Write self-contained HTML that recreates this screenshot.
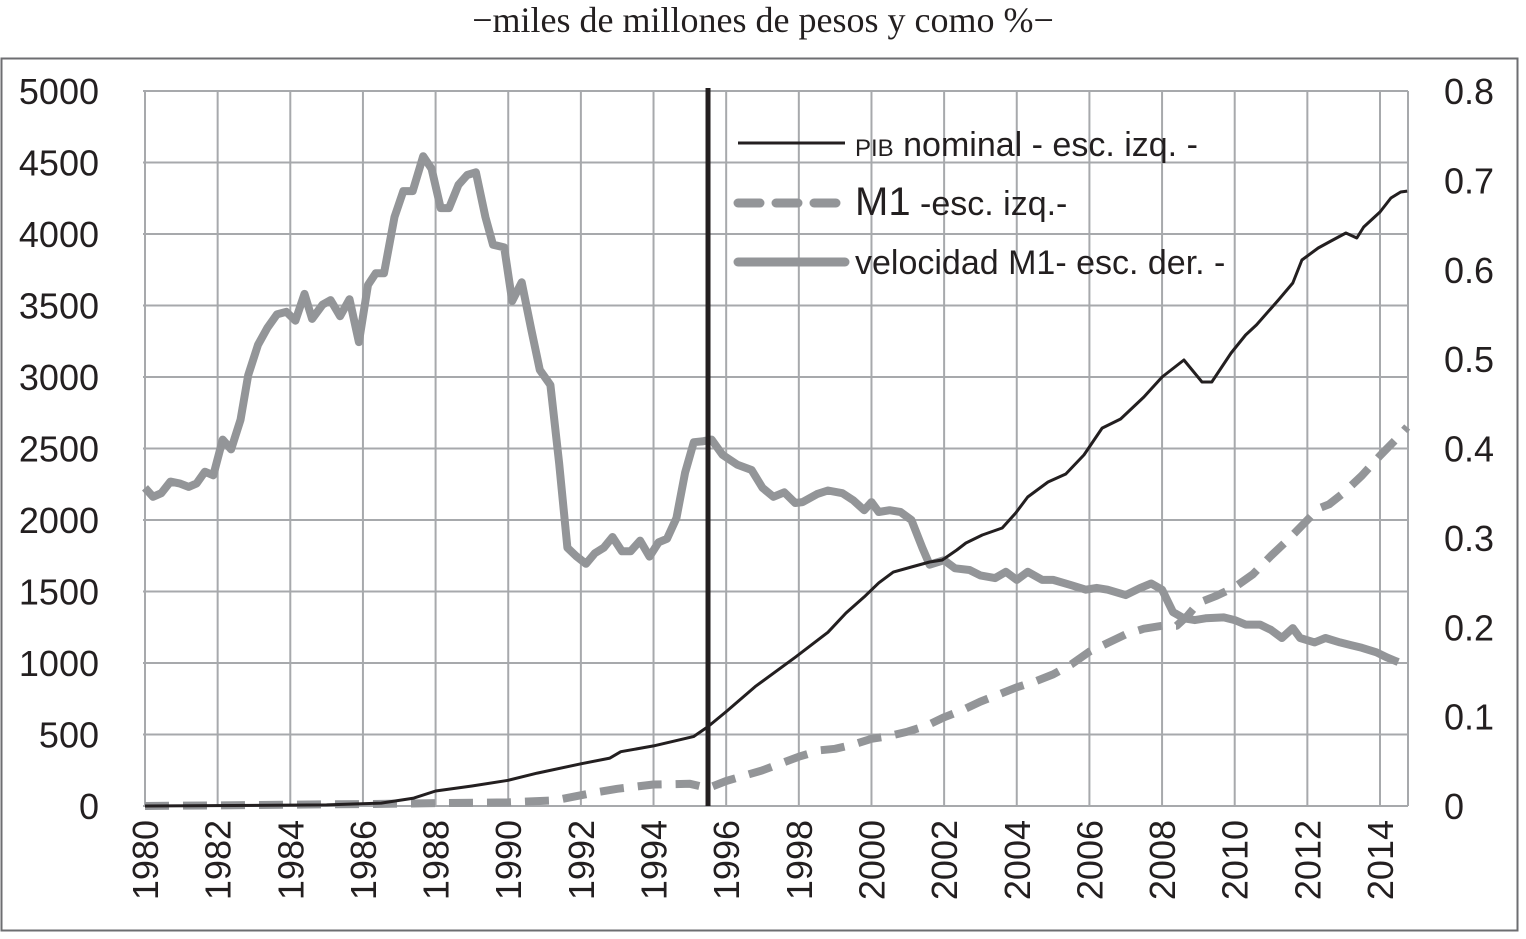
<!DOCTYPE html>
<html><head><meta charset="utf-8"><style>
html,body{margin:0;padding:0;background:#fff;}
svg{display:block;}
text{font-family:"Liberation Sans",sans-serif;fill:#231f20;}
</style></head><body>
<svg id="chart" width="1526" height="939" viewBox="0 0 1526 939">
<text x="763" y="32" text-anchor="middle" style="font-family:'Liberation Serif',serif;font-size:36px">−miles de millones de pesos y como %−</text>
<rect x="1.5" y="58.5" width="1516" height="872" fill="none" stroke="#6d6e71" stroke-width="2"/>
<g id="grid"></g>
<g id="axes"></g>
<g id="series"></g>
<g id="legend">
  <line x1="738" y1="143" x2="845" y2="143" stroke="#231f20" stroke-width="3"/>
  <text x="855" y="156" style="font-size:34px"><tspan style="font-size:24px">PIB</tspan> nominal - esc. izq. -</text>
  <line x1="738" y1="203" x2="845" y2="203" stroke="#939598" stroke-width="9" stroke-dasharray="22,16" stroke-linecap="round"/>
  <text x="855" y="215" style="font-size:34px"><tspan style="font-size:40px">M1</tspan>  -esc. izq.-</text>
  <line x1="738" y1="262" x2="845" y2="262" stroke="#939598" stroke-width="9" stroke-linecap="round"/>
  <text x="855" y="274" style="font-size:34px">velocidad M1- esc. der. -</text>
</g>
</svg>
<script>
const leftTicks=[0,500,1000,1500,2000,2500,3000,3500,4000,4500,5000];
const rightTicks=["0","0.1","0.2","0.3","0.4","0.5","0.6","0.7","0.8"];
const yearTicks=[1980,1982,1984,1986,1988,1990,1992,1994,1996,1998,2000,2002,2004,2006,2008,2010,2012,2014];
const breakYear=1995.5;

const velYears=[1980.0,1980.22,1980.45,1980.7,1980.95,1981.2,1981.42,1981.65,1981.88,1982.14,1982.37,1982.63,1982.84,1983.11,1983.37,1983.63,1983.89,1984.14,1984.39,1984.6,1984.89,1985.11,1985.37,1985.63,1985.89,1986.14,1986.35,1986.58,1986.87,1987.11,1987.37,1987.66,1987.89,1988.14,1988.37,1988.63,1988.87,1989.11,1989.37,1989.58,1989.89,1990.11,1990.37,1990.63,1990.87,1991.16,1991.4,1991.63,1991.86,1992.14,1992.39,1992.63,1992.87,1993.13,1993.37,1993.63,1993.89,1994.14,1994.37,1994.63,1994.87,1995.11,1995.34,1995.6,1995.9,1996.3,1996.7,1997.0,1997.3,1997.6,1997.9,1998.1,1998.5,1998.8,1999.2,1999.5,1999.8,2000.0,2000.2,2000.5,2000.8,2001.1,2001.4,2001.6,2002.0,2002.3,2002.7,2003.0,2003.4,2003.7,2004.0,2004.3,2004.7,2005.0,2005.5,2005.9,2006.2,2006.5,2007.0,2007.4,2007.7,2008.0,2008.3,2008.6,2008.9,2009.2,2009.7,2010.0,2010.3,2010.7,2011.0,2011.3,2011.6,2011.8,2012.2,2012.5,2012.9,2013.2,2013.5,2013.9,2014.2,2014.5,2014.75];
const velValues=[0.356,0.346,0.350,0.363,0.361,0.357,0.361,0.374,0.370,0.410,0.399,0.432,0.482,0.516,0.535,0.550,0.553,0.543,0.573,0.545,0.561,0.566,0.548,0.567,0.519,0.583,0.596,0.596,0.659,0.688,0.688,0.727,0.713,0.669,0.669,0.695,0.706,0.709,0.659,0.628,0.625,0.565,0.586,0.534,0.488,0.471,0.384,0.289,0.280,0.271,0.283,0.289,0.301,0.285,0.285,0.297,0.279,0.295,0.299,0.322,0.373,0.407,0.408,0.410,0.393,0.382,0.376,0.356,0.346,0.351,0.339,0.340,0.349,0.353,0.350,0.342,0.331,0.340,0.329,0.331,0.329,0.320,0.289,0.270,0.275,0.266,0.264,0.258,0.255,0.262,0.253,0.262,0.253,0.253,0.247,0.242,0.244,0.242,0.236,0.244,0.249,0.242,0.217,0.210,0.208,0.210,0.211,0.208,0.203,0.203,0.197,0.188,0.199,0.188,0.183,0.188,0.183,0.180,0.177,0.172,0.166,0.161];

const pibYears=[1980,1985,1986.5,1987.4,1988,1989,1990,1990.8,1992,1992.8,1993.1,1994,1995.1,1995.5,1996,1996.8,1997.9,1998.8,1999.3,1999.8,2000.2,2000.6,2001.1,2001.6,2001.95,2002.35,2002.6,2003.05,2003.6,2003.97,2004.3,2004.86,2005.35,2005.85,2006.35,2006.86,2007.5,2008.0,2008.6,2009.1,2009.37,2009.9,2010.3,2010.6,2011.2,2011.6,2011.85,2012.3,2012.65,2013.06,2013.36,2013.55,2014.0,2014.3,2014.57,2014.75];
const pibValues=[0,8,20,55,105,140,180,230,295,335,380,420,485,555,660,835,1040,1215,1350,1462,1560,1636,1671,1706,1720,1790,1839,1895,1944,2049,2161,2266,2322,2455,2643,2706,2860,3000,3119,2965,2965,3168,3294,3364,3538,3657,3818,3902,3951,4007,3972,4049,4154,4252,4294,4300];

const m1Years=[1980,1986.5,1988,1990,1991.3,1992.3,1993,1994,1995,1995.5,1996,1997,1998,1998.6,1999,1999.5,2000,2000.5,2001,2001.5,2002,2002.5,2003,2003.5,2004,2004.5,2005,2005.5,2006,2006.5,2007,2007.5,2008,2008.4,2008.7,2009,2009.5,2010,2010.5,2011,2011.5,2012,2012.3,2012.6,2013,2013.5,2014,2014.5,2014.75];
const m1Values=[0,15,20,25,40,90,120,150,155,125,175,250,345,390,400,430,470,490,520,560,620,670,730,780,830,870,920,990,1080,1140,1200,1240,1260,1260,1330,1420,1470,1530,1620,1750,1870,2000,2080,2110,2190,2310,2450,2580,2650];

const X0=145, Y0=806, YTOP=91, XR=1408;
const pxPerYear=(1380-145)/34;
function xs(yr){return X0+(yr-1980)*pxPerYear;}
function yl(v){return Y0-(v/5000)*(Y0-YTOP);}
function yr(v){return Y0-(v/0.8)*(Y0-YTOP);}
const NS="http://www.w3.org/2000/svg";
function mk(tag,attrs,parent){const e=document.createElementNS(NS,tag);for(const k in attrs)e.setAttribute(k,attrs[k]);parent.appendChild(e);return e;}

const grid=document.getElementById('grid'), axes=document.getElementById('axes'), series=document.getElementById('series');
leftTicks.forEach((t,i)=>{
  const y=yl(t);
  const l=mk('line',{x1:143,x2:XR,y1:y,y2:y,stroke:'#a7a9ac','stroke-width':2},grid);
  
  
  const tx=mk('text',{x:99,y:y+13,'text-anchor':'end','font-size':'36px'},axes);
  tx.textContent=t;
  
  
});
rightTicks.forEach((t,i)=>{
  const y=yr(parseFloat(t));
  const tx=mk('text',{x:1444,y:y+13,'font-size':'36px'},axes);
  tx.textContent=t;
  
  
});
yearTicks.forEach(yv=>{
  const x=xs(yv);
  const l=mk('line',{x1:x,x2:x,y1:YTOP,y2:Y0,stroke:'#a7a9ac','stroke-width':2},grid);
  
  
  const tx=mk('text',{x:0,y:0,'text-anchor':'end','font-size':'36px',transform:`translate(${x+13},${820}) rotate(-90)`},axes);
  tx.textContent=yv;
  
  
});
const rEdge=mk('line',{x1:XR,x2:XR,y1:YTOP,y2:Y0,stroke:'#a7a9ac','stroke-width':2},grid);



function path(xsArr,vals,fy){return xsArr.map((yv,i)=>(i?'L':'M')+xs(yv).toFixed(1)+','+fy(vals[i]).toFixed(1)).join(' ');}
const m1=mk('path',{d:path(m1Years,m1Values,yl),fill:'none',stroke:'#939598','stroke-width':8,'stroke-dasharray':'24,14','stroke-linejoin':'round'},series);


const vel=mk('path',{d:path(velYears,velValues,yr),fill:'none',stroke:'#939598','stroke-width':8,'stroke-linejoin':'round'},series);


const pib=mk('path',{d:path(pibYears,pibValues,yl),fill:'none',stroke:'#231f20','stroke-width':3,'stroke-linejoin':'round'},series);


const br=mk('line',{x1:xs(breakYear),x2:xs(breakYear),y1:88,y2:Y0,stroke:'#231f20','stroke-width':5},series);


</script>
</body></html>
